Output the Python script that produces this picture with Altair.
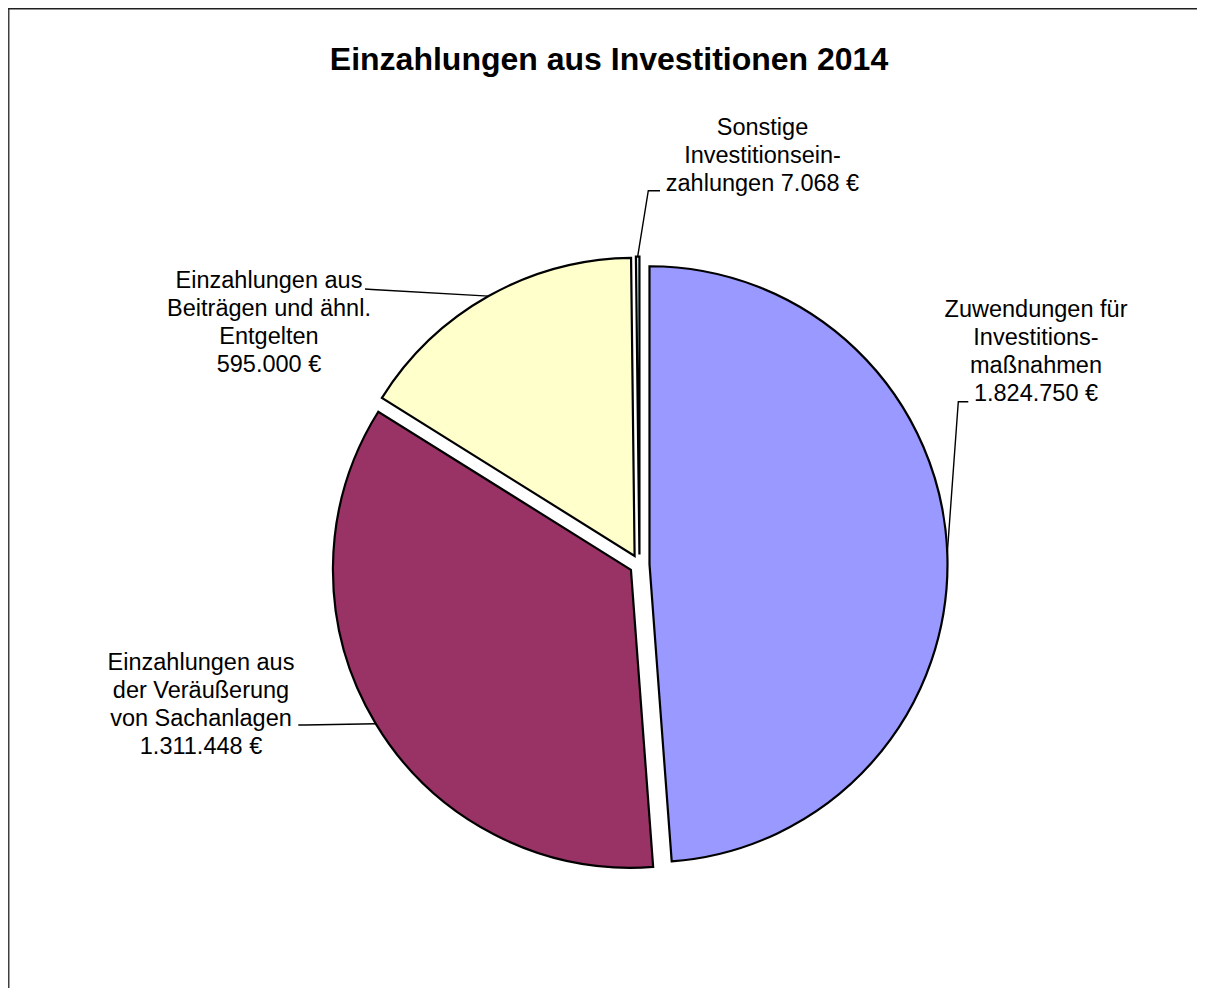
import math
import altair as alt
import pandas as pd

# ---------------- data ----------------
title_text = "Einzahlungen aus Investitionen 2014"
categories = [
    "Zuwendungen für Investitionsmaßnahmen",
    "Einzahlungen aus der Veräußerung von Sachanlagen",
    "Einzahlungen aus Beiträgen und ähnl. Entgelten",
    "Sonstige Investitionseinzahlungen",
]
values = [1824750, 1311448, 595000, 7068]
label_lines = [
    ["Zuwendungen für", "Investitions-", "maßnahmen"],
    ["Einzahlungen aus", "der Veräußerung", "von Sachanlagen"],
    ["Einzahlungen aus", "Beiträgen und ähnl.", "Entgelten"],
    ["Sonstige", "Investitionsein-", "zahlungen"],
]
value_on_same_line = [False, False, False, True]
colors = ["#9999FF", "#993366", "#FFFFCC", "#CCFFFF"]

# ---------------- layout / style ----------------
W, H = 1189, 980
CX, CY = 631.5, 556.6          # pie centre in chart pixels
R = 298                        # pie radius
EXPLODE = 10                   # slice explosion distance
FONT = "Liberation Sans"
LABEL_SIZE = 23.5
LINE_H = 28
# label anchor (centre x, first baseline y) in chart pixels
label_anchor = [(1028, 308.5), (193, 662), (261, 280), (754.5, 127)]
# leader stub start and bend point in chart pixels
leader_stub = [
    ((960.3, 393.7), (950.3, 393.7)),
    ((290.3, 717.0), (297.0, 717.0)),
    ((357.0, 281.0), (364.0, 281.5)),
    ((652.0, 182.7), (640.3, 182.7)),
]
title_pos = (601, 62)


def fmt_eur(v):
    return f"{v:,}".replace(",", ".") + " €"


def to_u(px):
    return px - CX


def to_v(py):
    return CY - py


total = sum(values)
xs = alt.Scale(domain=[-CX, W - CX], range=[0, W], nice=False, zero=False)
ys = alt.Scale(domain=[-(H - CY), CY], nice=False, zero=False)

# slices
rows = []
cum = 0
for name, val, col in zip(categories, values, colors):
    start, end = cum, cum + val
    cum = end
    mid = (start + end) / 2 / total * 2 * math.pi
    rows.append(dict(name=name, start=start, end=end,
                     u=EXPLODE * math.sin(mid), v=EXPLODE * math.cos(mid),
                     eu=(EXPLODE + R) * math.sin(mid), ev=(EXPLODE + R) * math.cos(mid)))
slices = pd.DataFrame(rows)

pie = alt.Chart(slices).mark_arc(outerRadius=R, stroke="black", strokeWidth=2.2).encode(
    theta=alt.Theta("start:Q", stack=None, scale=alt.Scale(domain=[0, total], range=[0, 2 * math.pi])),
    theta2="end:Q",
    x=alt.X("u:Q", scale=xs, axis=None),
    y=alt.Y("v:Q", scale=ys, axis=None),
    color=alt.Color("name:N", scale=alt.Scale(domain=categories, range=colors), legend=None),
)

# labels
lab_rows = []
for i, (lines, val) in enumerate(zip(label_lines, values)):
    lines = list(lines)
    if value_on_same_line[i]:
        lines[-1] = lines[-1] + " " + fmt_eur(val)
    else:
        lines.append(fmt_eur(val))
    ax, ay = label_anchor[i]
    lab_rows.append(dict(txt="\n".join(lines), u=to_u(ax), v=to_v(ay)))
labels_df = pd.DataFrame(lab_rows)
labels = alt.Chart(labels_df).mark_text(
    align="center", baseline="alphabetic", font=FONT, fontSize=LABEL_SIZE,
    lineHeight=LINE_H, lineBreak="\n", color="black"
).encode(
    x=alt.X("u:Q", scale=xs, axis=None),
    y=alt.Y("v:Q", scale=ys, axis=None),
    text="txt:N",
)

# leader lines
lead_rows = []
for i, ((p0, p1), r) in enumerate(zip(leader_stub, rows)):
    pts = [(to_u(p0[0]), to_v(p0[1])), (to_u(p1[0]), to_v(p1[1])), (r["eu"], r["ev"])]
    for k, (uu, vv) in enumerate(pts):
        lead_rows.append(dict(lid=i, k=k, u=uu, v=vv))
lead_df = pd.DataFrame(lead_rows)
leaders = alt.Chart(lead_df).mark_line(color="black", strokeWidth=1.4).encode(
    x=alt.X("u:Q", scale=xs, axis=None),
    y=alt.Y("v:Q", scale=ys, axis=None),
    detail="lid:N",
    order="k:Q",
)

# title
title_df = pd.DataFrame([dict(t=title_text, u=to_u(title_pos[0]), v=to_v(title_pos[1]))])
title = alt.Chart(title_df).mark_text(
    align="center", baseline="alphabetic", font=FONT, fontSize=32, fontWeight="bold", color="black"
).encode(
    x=alt.X("u:Q", scale=xs, axis=None),
    y=alt.Y("v:Q", scale=ys, axis=None),
    text="t:N",
)

# chart border (left and top edges visible)
dummy = pd.DataFrame({"k": [0]})
border_left = alt.Chart(dummy).mark_rule(color="#404040", strokeWidth=1.5).encode(
    x=alt.value(0.75), y=alt.value(0), y2=alt.value(H)
)
border_top = alt.Chart(dummy).mark_rule(color="#202020", strokeWidth=1.5).encode(
    y=alt.value(0.75), x=alt.value(0), x2=alt.value(W)
)

chart = alt.layer(pie, leaders, labels, title, border_left, border_top).properties(
    width=W, height=H, padding=0, autosize=alt.AutoSizeParams(type="none"),
    background="white",
).configure_view(stroke=None)

chart.save("out.html", embed_options={"renderer": "svg", "actions": False})
